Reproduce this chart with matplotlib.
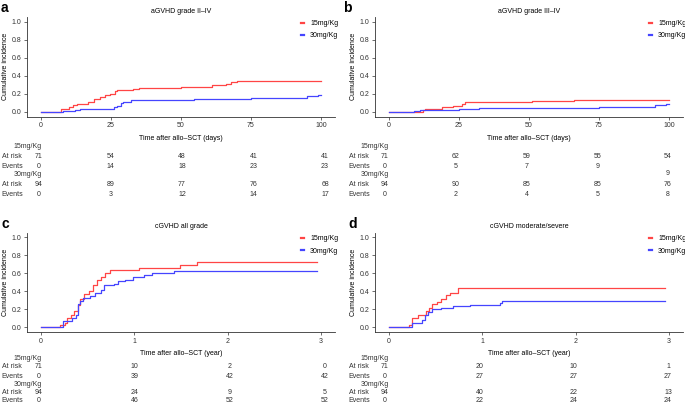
import matplotlib
matplotlib.use("Agg")
import matplotlib.pyplot as plt
from matplotlib.lines import Line2D

plt.rcParams['font.family'] = ['Liberation Sans', 'DejaVu Sans']

W, H = 685, 412
FS = 5

RED = "#FF4545"
BLUE = "#4545FF"

# ---- curves (step functions) ----
a_t_15 = [0, 7, 10, 11.5, 13, 16.7, 19, 21, 23, 24.8, 26.6, 27.2, 33, 35, 50, 61, 66, 68, 70, 100]
a_y_15 = [0, 0.03, 0.05, 0.075, 0.09, 0.11, 0.14, 0.17, 0.19, 0.20, 0.23, 0.24, 0.25, 0.26, 0.28, 0.30, 0.31, 0.33, 0.34, 0.34]
a_t_30 = [0, 8, 12, 14, 26, 27, 28.4, 29.4, 32, 54.6, 75, 95, 99, 100]
a_y_30 = [0, 0.01, 0.02, 0.035, 0.055, 0.07, 0.10, 0.11, 0.13, 0.14, 0.15, 0.175, 0.185, 0.185]

b_t_15 = [0, 12, 13, 19, 23, 26, 27, 51, 66, 100]
b_y_15 = [0, 0.02, 0.03, 0.05, 0.07, 0.09, 0.11, 0.12, 0.13, 0.13]
b_t_30 = [0, 9, 11, 13, 25, 32, 75, 95, 99, 100]
b_y_30 = [0, 0.015, 0.02, 0.025, 0.037, 0.048, 0.059, 0.077, 0.09, 0.09]

c_t_15 = [0, 0.207, 0.26, 0.28, 0.325, 0.357, 0.40, 0.42, 0.457, 0.51, 0.56, 0.60, 0.64, 0.69, 0.74, 1.05, 1.49, 1.67, 2.96]
c_y_15 = [0, 0.03, 0.055, 0.11, 0.14, 0.18, 0.25, 0.32, 0.375, 0.40, 0.47, 0.52, 0.56, 0.60, 0.64, 0.66, 0.69, 0.72, 0.72]
c_t_30 = [0, 0.24, 0.33, 0.37, 0.40, 0.42, 0.45, 0.53, 0.58, 0.64, 0.68, 0.78, 0.83, 0.90, 0.99, 1.10, 1.19, 1.42, 2.96]
c_y_30 = [0, 0.077, 0.10, 0.136, 0.26, 0.29, 0.33, 0.345, 0.385, 0.41, 0.47, 0.48, 0.51, 0.53, 0.555, 0.58, 0.60, 0.62, 0.62]

d_t_15 = [0, 0.21, 0.25, 0.31, 0.40, 0.43, 0.46, 0.51, 0.56, 0.61, 0.65, 0.74, 2.96]
d_y_15 = [0, 0.03, 0.10, 0.14, 0.18, 0.22, 0.26, 0.28, 0.32, 0.36, 0.385, 0.44, 0.44]
d_t_30 = [0, 0.25, 0.35, 0.39, 0.42, 0.46, 0.56, 0.69, 0.87, 1.19, 1.21, 2.96]
d_y_30 = [0, 0.05, 0.08, 0.14, 0.17, 0.20, 0.21, 0.24, 0.25, 0.27, 0.29, 0.29]

# ---- risk tables ----
days_ticks = [0, 25, 50, 75, 100]
year_ticks = [0, 1, 2, 3]

a_risk_15 = [71, 54, 48, 41, 41]
a_ev_15 = [0, 14, 18, 23, 23]
a_risk_30 = [94, 89, 77, 76, 68]
a_ev_30 = [0, 3, 12, 14, 17]

b_risk_15 = [71, 62, 59, 55, 54]
b_ev_15 = [0, 5, 7, 9, 9]
b_risk_30 = [94, 90, 85, 85, 76]
b_ev_30 = [0, 2, 4, 5, 8]

c_risk_15 = [71, 10, 2, 0]
c_ev_15 = [0, 39, 42, 42]
c_risk_30 = [94, 24, 9, 5]
c_ev_30 = [0, 46, 52, 52]

d_risk_15 = [71, 20, 10, 1]
d_ev_15 = [0, 27, 27, 27]
d_risk_30 = [94, 40, 22, 13]
d_ev_30 = [0, 22, 24, 24]

groups = ["15mg/Kg", "30mg/Kg"]
titles = ["aGVHD grade II\u2013IV", "aGVHD grade III\u2013IV", "cGVHD all grade", "cGVHD moderate/severe"]
xlabels = ["Time after allo\u2013SCT (days)", "Time after allo\u2013SCT (days)",
           "Time after allo\u2013SCT (year)", "Time after allo\u2013SCT (year)"]


def fbox(l, t, r, b):
    return [l / W, 1 - b / H, (r - l) / W, (b - t) / H]


def fx(x):
    return x / W


def fy(y):
    return 1 - y / H


fig = plt.figure(figsize=(W / 100, H / 100), dpi=100)

panels = [
    dict(letter="a", curves=(a_t_15, a_y_15, a_t_30, a_y_30), ticks=days_ticks, xlim=(-5, 105),
         tab=(a_risk_15, a_ev_15, a_risk_30, a_ev_30), ox=0, oy=0),
    dict(letter="b", curves=(b_t_15, b_y_15, b_t_30, b_y_30), ticks=days_ticks, xlim=(-5, 105),
         tab=(b_risk_15, b_ev_15, b_risk_30, b_ev_30), ox=348, oy=0),
    dict(letter="c", curves=(c_t_15, c_y_15, c_t_30, c_y_30), ticks=year_ticks, xlim=(-0.15, 3.15),
         tab=(c_risk_15, c_ev_15, c_risk_30, c_ev_30), ox=0, oy=1),
    dict(letter="d", curves=(d_t_15, d_y_15, d_t_30, d_y_30), ticks=year_ticks, xlim=(-0.15, 3.15),
         tab=(d_risk_15, d_ev_15, d_risk_30, d_ev_30), ox=348, oy=1),
]

letter_x = {"a": 1, "b": 343, "c": 1, "d": 348}

for i, p in enumerate(panels):
    ox = p["ox"]
    right = i % 2 == 1
    top = [17, 232.5][p["oy"]]
    bot = top + 99.5
    ax = fig.add_axes(fbox(27 + ox, top, 335 + ox, bot))
    t15, y15, t30, y30 = p["curves"]
    ax.step(t15, y15, where="post", color=RED, lw=0.9)
    ax.step(t30, y30, where="post", color=BLUE, lw=0.9)
    ax.set_xlim(*p["xlim"])
    ax.set_ylim(-0.05, 1.05)
    ax.set_xticks(p["ticks"])
    ax.set_yticks([0, 0.2, 0.4, 0.6, 0.8, 1.0])
    ax.set_yticklabels(["0.0", "0.2", "0.4", "0.6", "0.8", "1.0"])
    for s in ["top", "right"]:
        ax.spines[s].set_visible(False)
    for s in ["left", "bottom"]:
        ax.spines[s].set_color("#333333")
        ax.spines[s].set_linewidth(0.6)
    ax.tick_params(labelsize=FS, length=2, width=0.5, color="#333333", labelcolor="#333333", pad=2)
    ax.set_ylabel("Cumulative incidence", fontsize=FS, labelpad=2)
    ax.set_xlabel(xlabels[i], fontsize=FS, labelpad=4)
    ax.set_title(titles[i], fontsize=FS, pad=3)
    fig.text(fx(letter_x[p["letter"]]), fy(top - 9), p["letter"], fontsize=10,
             fontweight="bold", ha="left", va="center")

    handles = [Line2D([], [], color=RED, lw=1.6), Line2D([], [], color=BLUE, lw=1.6)]
    ax.legend(handles, groups, loc="upper left", bbox_to_anchor=(fx(301 + ox), fy(top + 3)),
              bbox_transform=fig.transFigure, frameon=False, fontsize=FS,
              handlelength=0.5, handletextpad=0.8, borderpad=0, borderaxespad=0,
              labelspacing=0.75)

    # risk table
    ty = [146, 358][p["oy"]]
    if p["oy"] == 0:
        rows = [ty + 11, ty + 20, ty + 39, ty + 48]
        gy = [ty, ty + 29]
    else:
        rows = [ty + 9, ty + 18, ty + 34, ty + 43]
        gy = [ty, ty + 26]
    tab_l = 39 + ox + (-2 if right else 0)
    tab_r = 325 + ox + (-5 if right else 0)
    tab = fig.add_axes(fbox(tab_l, ty - 10, tab_r, ty + 55))
    tab.set_xlim(0, p["ticks"][-1])
    tab.set_ylim(ty + 55, ty - 10)
    tab.axis("off")
    for r, vals in zip(rows, p["tab"]):
        for k, (x, v) in enumerate(zip(p["ticks"], vals)):
            yy = r
            if p["letter"] == "b" and r == rows[1] and k == len(vals) - 1:
                yy = r + 7.5
            tab.text(x, yy, str(v), fontsize=FS, ha="center", va="center", color="#333333")
    lab_x = 12 + ox + (-1 if right else 0)
    for g, yy in zip(groups, gy):
        fig.text(fx(lab_x + 16), fy(yy), g, fontsize=FS, ha="center", va="center", color="#333333")
    for k, r in enumerate(rows):
        fig.text(fx(lab_x), fy(r), ["At risk", "Events"][k % 2], fontsize=FS,
                 ha="center", va="center", color="#333333")

fig.savefig("out.png", dpi=100)
